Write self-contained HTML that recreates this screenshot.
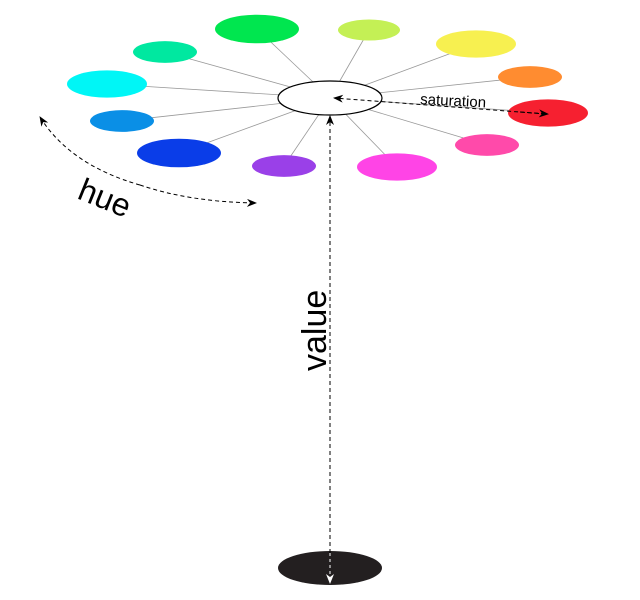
<!DOCTYPE html>
<html><head><meta charset="utf-8"><style>
html,body{margin:0;padding:0;background:#fff;width:640px;height:600px;overflow:hidden}
svg{display:block}
text{font-family:"Liberation Sans","DejaVu Sans",sans-serif}
</style></head><body>
<svg id="chart" width="640" height="600" viewBox="0 0 640 600">
<defs>
<marker id="ah" markerWidth="10" markerHeight="8" refX="9" refY="4" orient="auto" markerUnits="userSpaceOnUse"><path d="M0,0 L10,4 L0,8 L3,4 Z" fill="#000"/></marker>
<marker id="ahw" markerWidth="10" markerHeight="8" refX="9" refY="4" orient="auto" markerUnits="userSpaceOnUse"><path d="M0,0 L10,4 L0,8 L3,4 Z" fill="#fff"/></marker>
</defs>
<g id="spokes"></g>
<ellipse cx="330" cy="98" rx="52" ry="17" fill="#fff" stroke="#000" stroke-width="1.2"/>
<g id="blobs"></g>
<ellipse cx="330" cy="568" rx="52" ry="17" fill="#231f20"/>
<line x1="330" y1="553" x2="330" y2="116" stroke="#000" stroke-width="1" stroke-dasharray="4,3" marker-end="url(#ah)"/>
<line x1="330" y1="553" x2="330" y2="583" stroke="#fff" stroke-width="1" stroke-dasharray="3,3" marker-end="url(#ahw)"/>
<text transform="translate(326,371) rotate(-90)" font-size="34" fill="#000">value</text>
<path d="M546,114 L334,98" fill="none" stroke="#000" stroke-width="1" stroke-dasharray="4,3" marker-end="url(#ah)"/>
<line x1="520" y1="112" x2="548" y2="114" stroke="#000" stroke-width="1" stroke-dasharray="4,3" marker-end="url(#ah)"/>
<text transform="translate(420,104) rotate(3)" font-size="15" fill="#000">saturation</text>
<path d="M140,185 Q70,165 40,117" fill="none" stroke="#000" stroke-width="1" stroke-dasharray="4,3" marker-end="url(#ah)"/>
<path d="M140,185 Q190,202 256,203" fill="none" stroke="#000" stroke-width="1" stroke-dasharray="4,3" marker-end="url(#ah)"/>
<text transform="translate(76,198) rotate(22)" font-size="32" fill="#000">hue</text>
</svg>
<script>
const hues=['green','yellow-green','yellow','orange','red','pink','magenta','purple','blue','light-blue','cyan','teal'];
const colors=['#00e64f','#c4f055','#f7f050','#ff8c30','#f62030','#ff4aaa','#ff44e6','#9a40e8','#0a3de8','#0a8fe6','#00f6f6','#00e8a0'];
const cxs=[257,369,476,530,548,487,397,284,179,122,107,165];
const cys=[29,30,44,77,113,145,167,166,153,121,84,52];
const sizes=[42,31,40,32,40,32,40,32,42,32,40,32];
const NS='http://www.w3.org/2000/svg';
const sp=document.getElementById('spokes'),bl=document.getElementById('blobs');
hues.forEach((h,i)=>{
  const l=document.createElementNS(NS,'line');
  l.setAttribute('x1',330);l.setAttribute('y1',98);
  l.setAttribute('x2',cxs[i]);l.setAttribute('y2',cys[i]);
  l.setAttribute('stroke','#999');l.setAttribute('stroke-width','0.8');
  
  
  sp.appendChild(l);
  const e=document.createElementNS(NS,'ellipse');
  e.setAttribute('cx',cxs[i]);e.setAttribute('cy',cys[i]);
  e.setAttribute('rx',sizes[i]);e.setAttribute('ry',sizes[i]*0.34);
  e.setAttribute('fill',colors[i]);
  
  
  bl.appendChild(e);
});
</script>
</body></html>
